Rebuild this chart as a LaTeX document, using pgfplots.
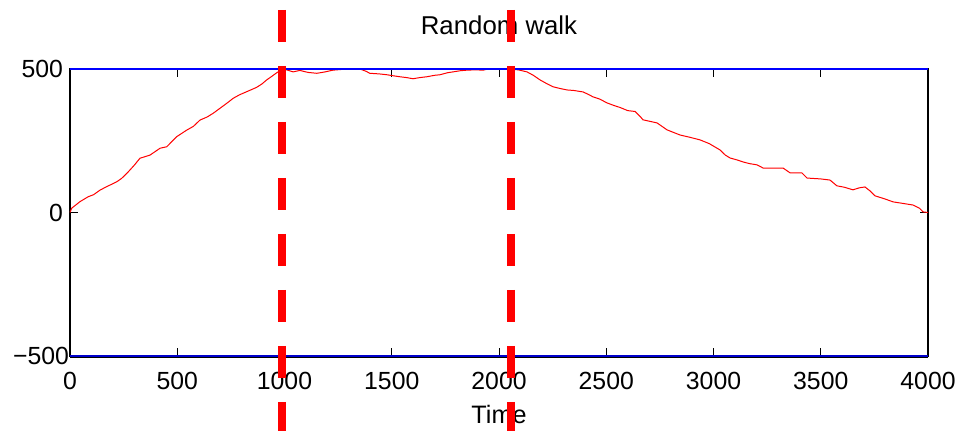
\documentclass[border=0pt]{standalone}
\usepackage{fontspec}
\setmainfont{Liberation Sans}
\usepackage{pgfplots}
\pgfplotsset{compat=1.18}
\usepackage{pgfplotstable}

% random walk position over time
\pgfplotstableread{
t v
0 0
8 15
47 38
85 55
110 62
140 78
171 90
218 107
241 119
272 142
300 165
326 189
373 200
420 224
451 229
497 264
544 287
575 300
606 322
640 333
668 346
699 363
730 380
761 398
790 410
824 421
870 436
895 448
917 462
940 474
964 487
993 500
1010 497
1040 490
1072 495
1110 488
1151 485
1190 490
1226 496
1260 498
1291 500
1352 500
1380 492
1398 485
1440 483
1477 480
1510 476
1538 473
1570 470
1599 466
1630 470
1664 473
1700 478
1725 480
1760 487
1786 490
1820 494
1851 496
1890 497
1926 496
1950 500
2000 500
2050 500
2090 497
2130 490
2160 478
2191 462
2220 450
2252 438
2285 432
2317 427
2350 425
2392 420
2415 412
2438 403
2470 395
2503 382
2535 373
2564 366
2600 355
2634 352
2660 333
2671 323
2737 312
2760 300
2783 288
2810 280
2844 270
2890 262
2937 253
2980 240
3030 218
3055 200
3077 190
3110 183
3138 176
3170 170
3203 166
3231 155
3324 155
3357 138
3412 138
3436 120
3500 117
3543 113
3575 93
3610 88
3650 79
3680 86
3706 89
3730 75
3753 58
3800 47
3837 37
3880 32
3930 26
3960 15
3977 2
4000 0
}\walk

\begin{document}
\begin{tikzpicture}
\begin{axis}[
  set layers,
  scale only axis,
  width=429pt, height=143.5pt,
  xmin=0, xmax=4000, ymin=-500, ymax=500,
  clip=false,
  xtick={0,500,...,4000},
  ytick={-500,0,500},
  yticklabels={{\raisebox{-1pt}{−500}\kern-3pt},0,500},
  tick align=inside,
  major tick length=4pt,
  tick style={black, line width=0.5pt},
  axis line style={black, line width=0.7pt},
  /pgf/number format/assume math mode=true,
  /pgf/number format/1000 sep={},
  ticklabel style={font=\fontsize{12.4}{14}\selectfont},
  xticklabel style={yshift=-4.5pt},
  title={Random walk},
  title style={at={(axis description cs:0.5,1)}, anchor=base, yshift=11pt,
    font=\fontsize{12.9}{14}\selectfont},
  xlabel={Time},
  xlabel style={at={(axis description cs:0.5,0)}, anchor=north, yshift=-21pt,
    font=\fontsize{12.6}{14}\selectfont},
]
\addplot[red, line width=0.5pt, forget plot] table[x=t, y=v] {\walk};

% barriers at +500 and -500
\addplot[black, line width=0.9pt, forget plot] coordinates {(0,-504) (4000,-504)};
\addplot[blue, line width=1.1pt, forget plot] coordinates {(0,500) (4000,500)};
\addplot[blue!80!black, line width=1.2pt, forget plot] coordinates {(0,-500) (4000,-500)};

% phase boundaries
\addplot[red, line width=4pt, dash pattern=on 16pt off 12pt, on layer=axis foreground, forget plot]
  coordinates {(990,706) (990,-800)};
\addplot[red, line width=4pt, dash pattern=on 16pt off 12pt, on layer=axis foreground, forget plot]
  coordinates {(2055,706) (2055,-800)};

\coordinate (bbSW) at (axis cs:-326.3,-761.3);
\coordinate (bbNE) at (axis cs:4205,740.4);
\end{axis}
\pgfresetboundingbox
\path[use as bounding box] (bbSW) rectangle (bbNE);
\end{tikzpicture}
\end{document}
